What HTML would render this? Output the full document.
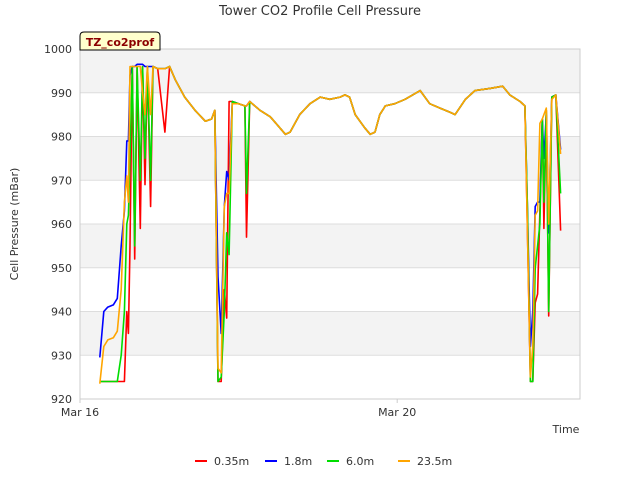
<!DOCTYPE html>
<html><head><meta charset="utf-8"><style>
body{margin:0;background:#fff;font-family:"DejaVu Sans","Liberation Sans",sans-serif;}
svg text{font-family:"DejaVu Sans","Liberation Sans",sans-serif;}
</style></head><body>
<svg id="chart" width="640" height="480" xmlns="http://www.w3.org/2000/svg">
<text x="320" y="15" text-anchor="middle" font-size="13" fill="#333">Tower CO2 Profile Cell Pressure</text>
<g id="bands"></g>
<g id="grid"></g>
<rect x="80" y="49" width="500" height="350" fill="none" stroke="#ccc"/>
<g id="series"></g>
<g id="axes"></g>
<text transform="translate(18,224) rotate(-90)" text-anchor="middle" font-size="11" fill="#333">Cell Pressure (mBar)</text>
<text x="566" y="433" text-anchor="middle" font-size="11" fill="#333">Time</text>
<g>
<path d="M80,50 L80,36 Q80,32 84,32 L156,32 Q160,32 160,36 L160,50 Z" fill="#ffffcc" stroke="#000"/>
<text x="120" y="46" text-anchor="middle" font-size="11" font-weight="bold" fill="#8b0000">TZ_co2prof</text>
</g>
<g id="legend"></g>
</svg>
<script>
const times=[0.25,0.30,0.35,0.42,0.47,0.52,0.56,0.59,0.61,0.63,0.66,0.69,0.72,0.76,0.79,0.82,0.85,0.89,0.92,0.98,1.07,1.13,1.2,1.32,1.45,1.58,1.66,1.70,1.74,1.78,1.82,1.85,1.88,1.92,2.0,2.08,2.10,2.14,2.27,2.40,2.52,2.59,2.65,2.77,2.90,3.03,3.15,3.28,3.34,3.40,3.47,3.59,3.66,3.72,3.78,3.85,3.97,4.10,4.29,4.41,4.54,4.67,4.73,4.86,4.98,5.17,5.33,5.42,5.55,5.61,5.64,5.68,5.71,5.74,5.77,5.80,5.83,5.85,5.88,5.91,5.95,6.0,6.06];
const s035=[924,924,924,924,924,924,924,940,935,955,996,952,996,959,996,969,996,964,996,995.5,981,996,993,989,986,983.5,984,986,924,924,945,938.5,988,988,987.5,987,957,988,986,984.5,982,980.5,981,985,987.5,989,988.5,989,989.5,989,985,982,980.5,981,985,987,987.5,988.5,990.5,987.5,986.5,985.5,985,988.5,990.5,991,991.5,989.5,988,987,960,924,924,942,944,963,984,959,986,939,989,989.5,958.5];
const s18=[929.5,940,941,941.5,943,955,963,979,979,994,996,996,996.5,996.5,996.5,996,996,996,996,995.5,995.5,996,993,989,986,983.5,984,986,948,935,964,972,970,988,987.5,987,987,988,986,984.5,982,980.5,981,985,987.5,989,988.5,989,989.5,989,985,982,980.5,981,985,987,987.5,988.5,990.5,987.5,986.5,985.5,985,988.5,990.5,991,991.5,989.5,988,987,965,932,940,964,965,965,984,975,985,958,989,989.5,977];
const s60=[924,924,924,924,924,930,940,960,962,975,996,955,996,970,996,975,996,970,996,995.5,995.5,996,993,989,986,983.5,984,986,924,925,940,958,953,988,987.5,987,967,988,986,984.5,982,980.5,981,985,987.5,989,988.5,989,989.5,989,985,982,980.5,981,985,987,987.5,988.5,990.5,987.5,986.5,985.5,985,988.5,990.5,991,991.5,989.5,988,987,965,924,924,950,955,960,984,965,986,940,989,989.5,967];
const s235=[923.5,932,933.5,934,935.5,945,965,971,965,996,996,996,996,996,990,985,996,985,996,995.5,995.5,996,993,989,986,983.5,984,986,927,926,964,967,967,987.5,987.5,987,987,988,986,984.5,982,980.5,981,985,987.5,989,988.5,989,989.5,989,985,982,980.5,981,985,987,987.5,988.5,990.5,987.5,986.5,985.5,985,988.5,990.5,991,991.5,989.5,988,987,960,925,932,962,963,983,984,985,986.5,960,988.5,989.5,976];
const yTicks=[920,930,940,950,960,970,980,990,1000];
const xTickDays=[0,4];
const xTickLabels=["Mar 16","Mar 20"];
const seriesNames=["0.35m","1.8m","6.0m","23.5m"];
const NS="http://www.w3.org/2000/svg";
const X=d=>80+d*79.3, Y=v=>399-(v-920)*350/80;
function mk(tag,attrs,parent){const e=document.createElementNS(NS,tag);for(const k in attrs)e.setAttribute(k,attrs[k]);parent.appendChild(e);return e;}
const bands=document.getElementById('bands'),grid=document.getElementById('grid'),axes=document.getElementById('axes');
mk('rect',{x:80,y:49,width:500,height:350,fill:'#fff'},bands);
for(let i=0;i<yTicks.length-1;i++){if(i%2===1){const r=mk('rect',{x:80,y:Y(yTicks[i+1]),width:500,height:Y(yTicks[i])-Y(yTicks[i+1]),fill:'#f3f3f3'},bands);

}}
yTicks.forEach(v=>{const l=mk('line',{x1:80,x2:580,y1:Y(v),y2:Y(v),stroke:'#ddd'},grid);


const t=mk('text',{x:72,y:Y(v)+4,'text-anchor':'end','font-size':11,fill:'#333'},axes);t.textContent=v;

});
xTickDays.forEach((d,i)=>{const t=mk('text',{x:X(d),y:416,'text-anchor':'middle','font-size':11,fill:'#333'},axes);t.textContent=xTickLabels[i];


const l=mk('line',{x1:X(d),x2:X(d),y1:399,y2:403,stroke:'#ccc'},axes);

});
const colors=['#ff0000','#0000ff','#00dd00','#ffa500'];
const data=[s035,s18,s60,s235];
const sg=document.getElementById('series');
data.forEach((arr,k)=>{const pts=arr.map((v,i)=>X(times[i]).toFixed(1)+','+Y(v).toFixed(1)).join(' ');
const p=mk('polyline',{points:pts,fill:'none',stroke:colors[k],'stroke-width':1.6,'stroke-linejoin':'round'},sg);

});
const lg=document.getElementById('legend');const lx=[195,265,327,398];
seriesNames.forEach((n,k)=>{const g=mk('g',{},lg);


mk('line',{x1:lx[k],x2:lx[k]+12,y1:461,y2:461,stroke:colors[k],'stroke-width':2},g);
const t=mk('text',{x:lx[k]+19,y:465,'font-size':11,fill:'#333'},g);t.textContent=n;});
</script>
</body></html>
